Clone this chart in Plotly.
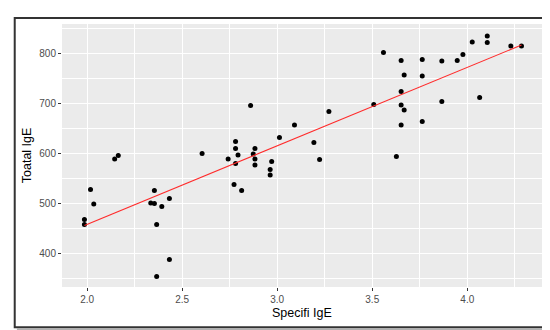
import numpy as np
import plotly.graph_objects as go

# Data
specific_ige = [1.986, 1.986, 2.018, 2.035, 2.145, 2.164, 2.335, 2.354, 2.354, 2.366,
                2.366, 2.393, 2.433, 2.433, 2.605, 2.742, 2.773, 2.781, 2.781, 2.781,
                2.794, 2.813, 2.860, 2.874, 2.883, 2.883, 2.883, 2.963, 2.963, 2.971,
                3.012, 3.091, 3.193, 3.223, 3.272, 3.508, 3.559, 3.627, 3.652, 3.652,
                3.652, 3.652, 3.668, 3.668, 3.763, 3.763, 3.763, 3.866, 3.866, 3.947,
                3.977, 4.026, 4.065, 4.105, 4.105, 4.229, 4.285]
total_ige = [468, 458, 528, 499, 589, 596, 501, 500, 526, 458,
             354, 494, 510, 388, 600, 589, 538, 624, 610, 580,
             597, 526, 696, 599, 610, 589, 577, 568, 557, 584,
             632, 657, 622, 588, 684, 698, 802, 594, 786, 724,
             697, 657, 757, 687, 788, 755, 664, 785, 704, 786,
             798, 823, 712, 835, 822, 815, 815]

x_tickvals = [2.0, 2.5, 3.0, 3.5, 4.0]
x_ticktext = ["2.0", "2.5", "3.0", "3.5", "4.0"]
y_tickvals = [400, 500, 600, 700, 800]
y_ticktext = ["400", "500", "600", "700", "800"]
x_title = "Specifi IgE"
y_title = "Toatal IgE"

# linear fit (geom_smooth method = lm)
xs = np.array(specific_ige)
ys = np.array(total_ige)
slope, intercept = np.polyfit(xs, ys, 1)
fit_x = np.array([xs.min(), xs.max()])
fit_y = slope * fit_x + intercept

FONT = "Liberation Sans, Arial, sans-serif"

fig = go.Figure()
fig.add_trace(go.Scatter(x=specific_ige, y=total_ige, mode="markers",
                         marker=dict(color="black", size=5, line=dict(width=0)),
                         showlegend=False, hoverinfo="skip"))
fig.add_trace(go.Scatter(x=fit_x, y=fit_y, mode="lines",
                         line=dict(color="#ff2a2a", width=1.1),
                         showlegend=False, hoverinfo="skip"))

fig.update_layout(
    width=550, height=330,
    margin=dict(l=54, r=16, t=16, b=51),
    paper_bgcolor="white",
    plot_bgcolor="#EBEBEB",
    font=dict(family=FONT, color="#4D4D4D", size=10),
    xaxis=dict(range=[1.868, 4.393], tickvals=x_tickvals, ticktext=x_ticktext,
               showgrid=True, gridcolor="white", gridwidth=1.1,
               minor=dict(dtick=0.25, tick0=2.0, showgrid=True, gridcolor="white", gridwidth=0.5),
               ticks="outside", ticklen=3, tickwidth=1, tickcolor="#333333",
               zeroline=False, showline=False,
               tickfont=dict(family=FONT, size=10, color="#4D4D4D")),
    yaxis=dict(range=[333, 859], tickvals=y_tickvals, ticktext=y_ticktext,
               showgrid=True, gridcolor="white", gridwidth=1.1,
               minor=dict(dtick=50, tick0=350, showgrid=True, gridcolor="white", gridwidth=0.5),
               ticks="outside", ticklen=3, tickwidth=1, tickcolor="#333333",
               zeroline=False, showline=False,
               tickfont=dict(family=FONT, size=10, color="#4D4D4D")),
    annotations=[
        dict(text=x_title, x=0.5, y=-0.099, xref="paper", yref="paper",
             xanchor="center", yanchor="middle", showarrow=False,
             font=dict(family=FONT, size=12.5, color="black")),
        dict(text=y_title, x=-0.0735, y=0.5, xref="paper", yref="paper",
             xanchor="center", yanchor="middle", showarrow=False, textangle=-90,
             font=dict(family=FONT, size=12.5, color="black")),
    ],
    shapes=[
        dict(type="rect", xref="paper", yref="paper",
             x0=-0.0985, x1=1.016, y0=-0.1532, y1=1.0228,
             line=dict(color="#333333", width=2), fillcolor="rgba(0,0,0,0)", layer="above"),
        dict(type="line", xref="paper", yref="paper",
             x0=1.0195, x1=1.0195, y0=1.015, y1=-0.1595,
             line=dict(color="#b0b0b0", width=2), layer="above"),
        dict(type="line", xref="paper", yref="paper",
             x0=-0.094, x1=1.0215, y0=-0.1595, y1=-0.1595,
             line=dict(color="#b0b0b0", width=2), layer="above"),
    ],
)

fig.write_html("out.html")
